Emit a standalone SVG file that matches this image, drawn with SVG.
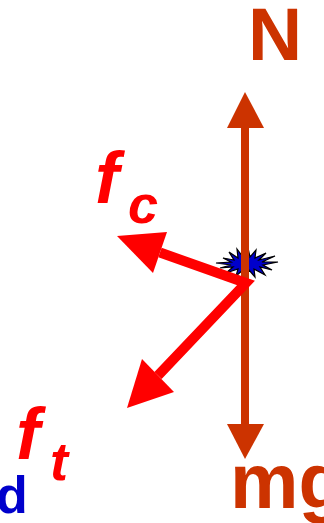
<svg xmlns="http://www.w3.org/2000/svg" width="324" height="523" viewBox="0 0 324 523">
<style>
.orange{fill:none;stroke:#CC3300;stroke-width:8}
.orangehead{fill:#CC3300}
.red{fill:none;stroke:#FF0000;stroke-width:10;stroke-linejoin:miter}
.redhead{fill:#FF0000}
.lbl{font-family:"Liberation Sans",Arial,sans-serif;font-weight:bold}
.force{font-style:italic;fill:#FF0000}
</style>
<rect width="324" height="523" fill="#FFFFFF"/>
<g id="contact">
<polygon fill="#0000CC" stroke="#000000" stroke-width="1.2" points="278,262 263,265 272,270 260,267 265,275 254,269 255,277 249,270 246,276 243,270 236,276 238,269 226,273 233,267 220,268 231,265 216,263 231,262 223,258 234,260 229,252 238,258 237,249 243,257 248,248 250,257 256,250 255,258 266,253 259,260 275,256 262,262"/>
</g>
<g id="connectors">
<line class="orange" x1="245" y1="126" x2="245" y2="426"/>
<polygon class="orangehead" points="245,92 264,128 227,128"/>
<polygon class="orangehead" points="245,459 264,424 227,424"/>
<polyline class="red" points="160,252.5 246,283 158,375.5"/>
<polygon class="redhead" points="117,236 167,232 153,273"/>
<polygon class="redhead" points="127,408 142,359 174,392"/>
</g>
<g id="label-N"><text class="lbl" x="248" y="60" font-size="75" fill="#CC3300">N</text></g>
<g id="label-mg"><text class="lbl" x="230" y="508" font-size="77" fill="#CC3300">mg</text></g>
<g id="label-fc"><text class="lbl force"><tspan x="95" y="203" font-size="72">f</tspan><tspan x="128" y="223" font-size="54">c</tspan></text></g>
<g id="label-ft"><text class="lbl force"><tspan x="16" y="459" font-size="72">f</tspan><tspan x="50" y="480" font-size="54">t</tspan></text></g>
<g id="label-d"><text class="lbl" x="-4" y="513" font-size="52" fill="#0000CC">d</text></g>
</svg>
